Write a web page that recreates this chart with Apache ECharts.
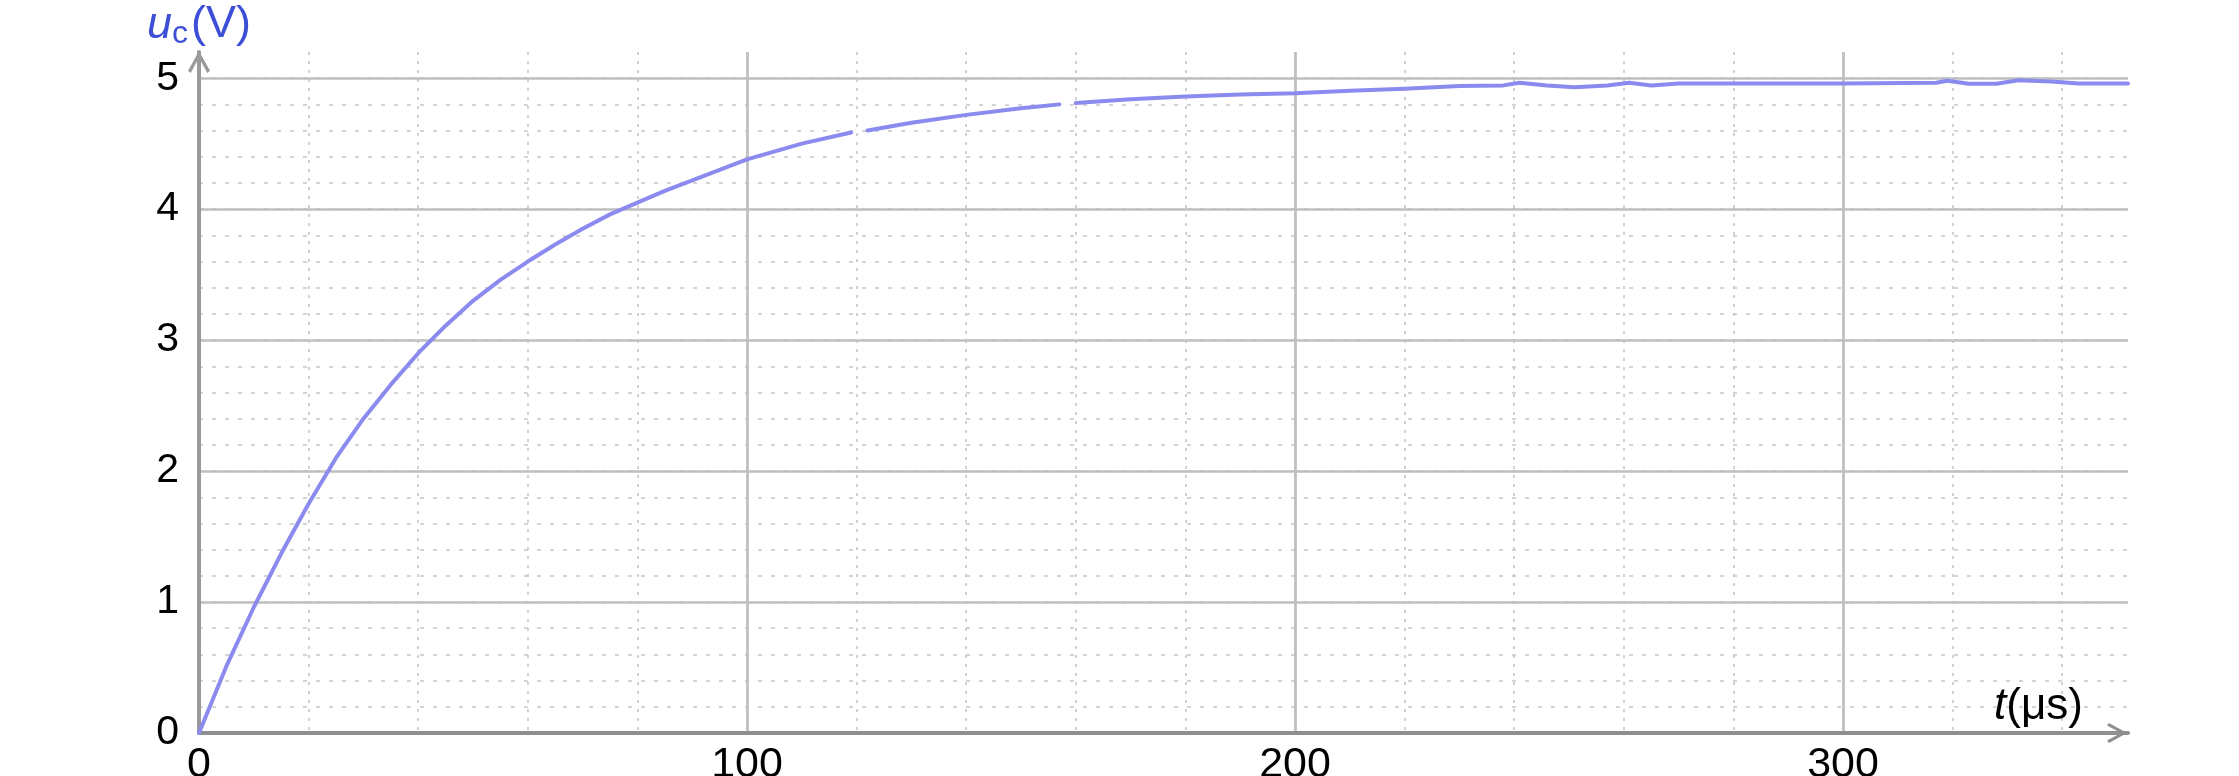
<!DOCTYPE html>
<html>
<head>
<meta charset="utf-8">
<title>uc(t)</title>
<script src="https://cdn.jsdelivr.net/npm/echarts@6/dist/echarts.min.js"></script>
<style>
    html, body { margin: 0; padding: 0; background: #fff; }
    #chart { width: 2239px; height: 776px; }
</style>
</head>
<body>
<div id="chart"></div>
<script>
// capacitor charging curve
const timeUs = [
    0, 5, 10, 15, 20, 25, 30, 35, 40, 45, 50, 55, 60, 65, 70, 75, 80, 85, 90, 95,
    100, 110, 119, 121, 122, 130, 140, 150, 157, 158.5, 160, 170, 180, 190, 200,
    210, 220, 230, 238, 241, 246, 251, 257, 261, 265, 270, 280, 300, 317, 319,
    323, 328, 332, 338, 343, 352
];
const voltageV = [
    0, 0.51, 0.96, 1.37, 1.75, 2.10, 2.40, 2.66, 2.90, 3.11, 3.30, 3.46, 3.60, 3.73, 3.85, 3.96, 4.05, 4.14, 4.22, 4.30,
    4.38, 4.50, 4.585, null, 4.60, 4.66, 4.72, 4.77, 4.80, null, 4.81, 4.84, 4.86, 4.875, 4.885,
    4.905, 4.92, 4.94, 4.945, 4.965, 4.945, 4.93, 4.945, 4.965, 4.945, 4.96, 4.96, 4.96, 4.965, 4.98,
    4.957, 4.957, 4.985, 4.975, 4.96, 4.96
];

const xMax = 352;
const yMax = 5.2;
const xMajorStep = 100;
const xMinorStep = 20;
const yMajorStep = 1;
const yMinorStep = 0.2;

const FONT = "'Liberation Sans', Arial, sans-serif";
const arrowPath = "path://M0,18 L10,0 L20,18 L17.5,20 L10,6 L2.5,20 Z";

const points = timeUs.map(function (t, i) { return [t, voltageV[i]]; });

const chart = echarts.init(document.getElementById("chart"));
chart.setOption({
    animation: false,
    backgroundColor: "#ffffff",
    grid: { left: 199, right: 111, top: 52, bottom: 43, containLabel: false, outerBoundsMode: "none" },
    xAxis: [
        {
            type: "value",
            min: 0,
            max: xMax,
            interval: xMajorStep,
            z: 2,
            name: "{i|t}{n|(μs)}",
            nameLocation: "end",
            nameGap: -45,
            nameTextStyle: {
                align: "right",
                verticalAlign: "bottom",
                padding: [0, 0, 4, 0],
                rich: {
                    i: { fontFamily: FONT, fontSize: 44, fontStyle: "italic", color: "#000" },
                    n: { fontFamily: FONT, fontSize: 44, color: "#000" },
                },
            },
            axisLine: {
                show: true,
                symbol: ["none", arrowPath],
                symbolSize: [20, 24],
                symbolOffset: [0, -11],
                lineStyle: { color: "#8f8f8f", width: 4 },
            },
            axisTick: { show: false },
            axisLabel: {
                fontFamily: FONT,
                fontSize: 43,
                color: "#000",
                margin: 11,
                showMaxLabel: false,
            },
            splitLine: {
                show: true,
                showMinLine: false,
                showMaxLine: false,
                lineStyle: { color: "#bfbfbf", width: 2.7 },
            },
        },
        {
            type: "value",
            min: 0,
            max: xMax,
            interval: xMinorStep,
            z: 1,
            axisLine: { show: false },
            axisTick: { show: false },
            axisLabel: { show: false },
            splitLine: {
                show: true,
                showMinLine: false,
                showMaxLine: false,
                lineStyle: { color: "#c6c6c6", width: 1.6, type: [3, 6] },
            },
        },
    ],
    yAxis: [
        {
            type: "value",
            min: 0,
            max: yMax,
            interval: yMajorStep,
            z: 2,
            name: "{u|u}{c|c}{v|(V)}",
            nameLocation: "end",
            nameGap: 2,
            nameTextStyle: {
                align: "center",
                verticalAlign: "bottom",
                rich: {
                    u: { fontFamily: FONT, fontSize: 45, fontStyle: "italic", color: "#3d4fd6", lineHeight: 50, verticalAlign: "middle" },
                    c: { fontFamily: FONT, fontSize: 32, color: "#3d4fd6", lineHeight: 50, verticalAlign: "bottom", padding: [0, 3, 0, 0] },
                    v: { fontFamily: FONT, fontSize: 45, color: "#3d4fd6", lineHeight: 50, verticalAlign: "middle" },
                },
            },
            axisLine: {
                show: true,
                symbol: ["none", arrowPath],
                symbolSize: [24, 22],
                symbolOffset: [0, -10],
                lineStyle: { color: "#9a9a9a", width: 4 },
            },
            axisTick: { show: false },
            axisLabel: {
                fontFamily: FONT,
                fontSize: 41,
                color: "#000",
                margin: 20,
                showMaxLabel: false,
            },
            splitLine: {
                show: true,
                showMinLine: false,
                showMaxLine: false,
                lineStyle: { color: "#bfbfbf", width: 2.7 },
            },
        },
        {
            type: "value",
            min: 0,
            max: yMax,
            interval: yMinorStep,
            z: 1,
            axisLine: { show: false },
            axisTick: { show: false },
            axisLabel: { show: false },
            splitLine: {
                show: true,
                showMinLine: false,
                showMaxLine: false,
                lineStyle: { color: "#c6c6c6", width: 1.6, type: [4, 9] },
            },
        },
    ],
    series: [
        {
            name: "uc",
            type: "line",
            xAxisIndex: 0,
            yAxisIndex: 0,
            data: points,
            showSymbol: false,
            smooth: false,
            connectNulls: false,
            z: 5,
            lineStyle: { color: "#8b8bef", width: 4, join: "round", cap: "round" },
        },
    ],
});

window.addEventListener("resize", function () {
    chart.resize();
});
</script>
</body>
</html>
